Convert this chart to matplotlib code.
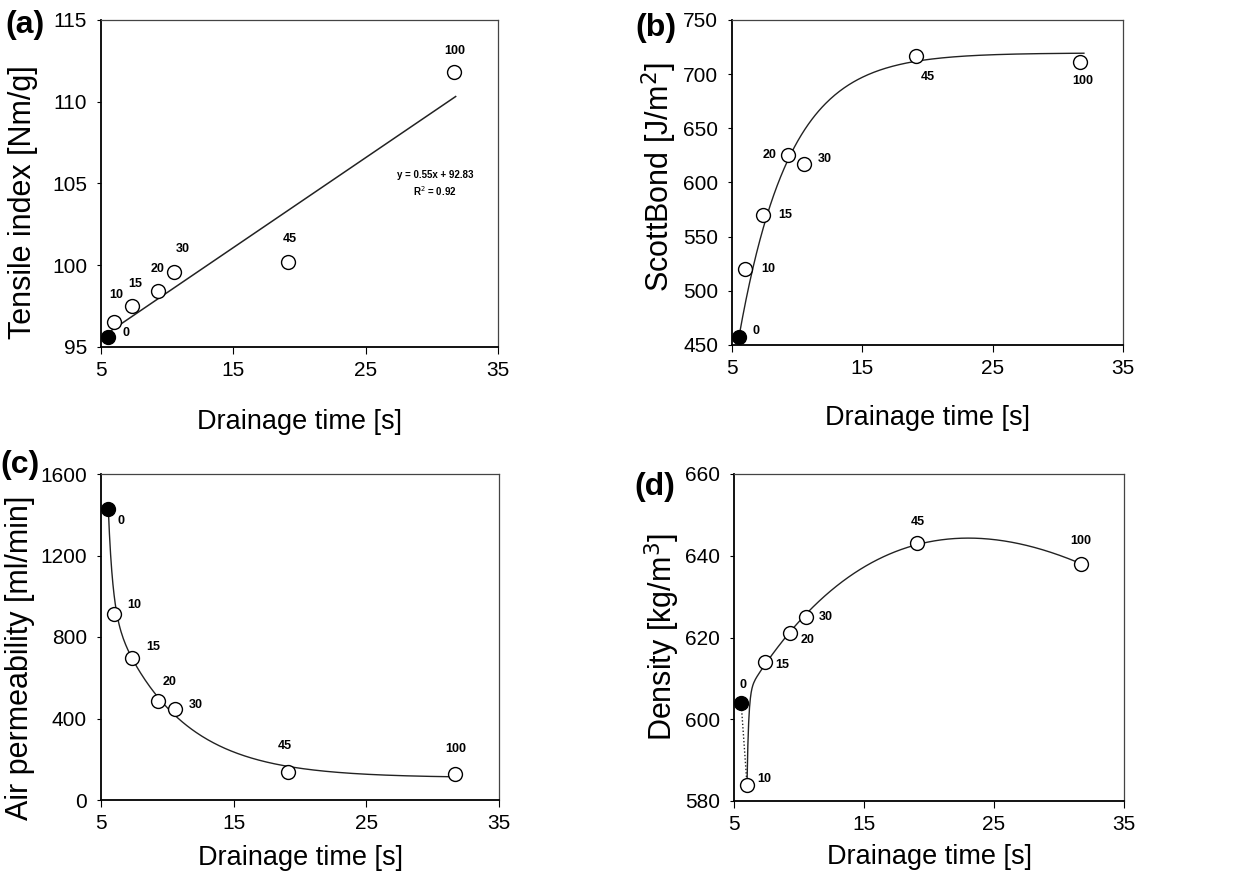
import numpy as np
import matplotlib
matplotlib.use("Agg")
import matplotlib.pyplot as plt

plt.rcParams["font.family"] = ["Liberation Sans", "DejaVu Sans"]

# data
drainage = [5.55, 6.0, 7.37, 9.3, 10.55, 19.1, 31.7]
point_labels = ["0", "10", "15", "20", "30", "45", "100"]
tensile = [95.6, 96.5, 97.5, 98.4, 99.6, 100.2, 111.8]
scott_bond = [457, 520, 570, 625, 617, 717, 711]
air_perm = [1430, 912, 695, 486, 447, 138, 129]
density = [604, 584, 614, 621, 625, 643, 638]

x_ticks = [5, 15, 25, 35]
tensile_ticks = [95, 100, 105, 110, 115]
scott_ticks = [450, 500, 550, 600, 650, 700, 750]
air_ticks = [0, 400, 800, 1200, 1600]
density_ticks = [580, 600, 620, 640, 660]

lin_slope, lin_icept, lin_r2 = 0.55, 92.83, 0.92

# weights used for the smooth trend curves (the reference curves hug some points more)
weights_b = [20, 1, 1, 1, 1, 4, 1]
weights_c = [20, 0.05, 1, 1, 1, 1, 1]
weights_d = [5, 1, 1, 1, 2, 3]

# label offsets in pixels (dx, dy)
off_a = [(18, 4), (2, 27), (3, 22), (0, 22), (8, 23), (2, 23), (0, 21)]
off_b = [(17, 6), (23, 0), (22, 0), (-18, 0), (20, 5), (12, -21), (3, -19)]
off_c = [(13, -12), (20, 9), (21, 11), (12, 19), (21, 4), (-3, 26), (1, 25)]
off_d = [(2, 18), (17, 6), (17, -3), (18, -7), (20, 0), (1, 21), (0, 23)]

LINE = "#222222"


def fit_curve(x, y, w, make_funcs, params):
    sw = np.sqrt(np.asarray(w, dtype=float))
    best = None
    for p in params:
        funcs = make_funcs(p)
        A = np.column_stack([f(x) for f in funcs])
        coef, *_ = np.linalg.lstsq(A * sw[:, None], y * sw, rcond=None)
        sse = float(np.sum(((A @ coef - y) * sw) ** 2))
        if best is None or sse < best[0]:
            best = (sse, funcs, coef)
    _, funcs, coef = best
    return lambda t: sum(c * f(t) for c, f in zip(coef, funcs))


def style_axes(ax, yticks, ylabel, ylab_pos, xlab_y, letter, letter_xy):
    ax.set_xlim(5, 35)
    ax.set_ylim(yticks[0], yticks[-1])
    ax.set_xticks(x_ticks)
    ax.set_yticks(yticks)
    for side in ("left", "bottom"):
        ax.spines[side].set_linewidth(1.3)
        ax.spines[side].set_color("black")
    for side in ("top", "right"):
        ax.spines[side].set_linewidth(0.9)
        ax.spines[side].set_color("#444444")
    ax.tick_params(axis="both", direction="out", labelsize=15, top=False, right=False)
    ax.tick_params(axis="x", length=5, pad=5)
    ax.tick_params(axis="y", length=3, pad=7)
    ax.set_xlabel("Drainage time [s]", fontsize=19.5, va="center")
    ax.xaxis.set_label_coords(0.5, xlab_y)
    ax.set_ylabel(ylabel, fontsize=22, va="center")
    ax.yaxis.set_label_coords(*ylab_pos)
    fig.text(letter_xy[0] / 1251, 1 - letter_xy[1] / 883, letter, fontsize=23,
             fontweight="bold", ha="center", va="center")


def draw_points(ax, x, y, offsets):
    ax.plot(x[1:], y[1:], "o", ms=10, mfc="white", mec="black", mew=1.0, zorder=3)
    ax.plot(x[:1], y[:1], "o", ms=10, mfc="black", mec="black", mew=1.0, zorder=3)
    for xi, yi, lab, (dx, dy) in zip(x, y, point_labels, offsets):
        ax.annotate(lab, (xi, yi), xytext=(dx, dy), textcoords="offset pixels",
                    ha="center", va="center", fontsize=9, fontweight="bold")


fig = plt.figure(figsize=(12.51, 8.83), dpi=100)
fig.patch.set_facecolor("white")

ax_a = fig.add_axes([101 / 1251, 1 - 347 / 883, 397 / 1251, 327 / 883])
ax_b = fig.add_axes([732 / 1251, 1 - 345 / 883, 391 / 1251, 325 / 883])
ax_c = fig.add_axes([101 / 1251, 1 - 800 / 883, 398 / 1251, 326 / 883])
ax_d = fig.add_axes([734 / 1251, 1 - 801 / 883, 390 / 1251, 327 / 883])

x = np.array(drainage)

# (a) linear regression
xs = np.linspace(x[0], 31.8, 50)
ax_a.plot(xs, lin_slope * xs + lin_icept, color=LINE, lw=1.1)
draw_points(ax_a, x, np.array(tensile), off_a)
ax_a.text(0.842, 1 - (174.7 - 20) / 327, f"y = {lin_slope}x + {lin_icept}",
          transform=ax_a.transAxes, ha="center", va="center", fontsize=7,
          fontweight="bold")
ax_a.text(0.842, 1 - (191 - 20) / 327, f"R$^2$ = {lin_r2}", transform=ax_a.transAxes,
          ha="center", va="center", fontsize=7, fontweight="bold")
style_axes(ax_a, tensile_ticks, "Tensile index [Nm/g]", (-0.196, 0.443), -0.228,
           "(a)", (25, 25))

# (b) exponential rise to maximum
yb = np.array(scott_bond, dtype=float)
fb = fit_curve(x, yb, weights_b,
               lambda k: [np.ones_like, lambda t, k=k: np.exp(-k * (t - 5))],
               np.linspace(0.05, 1.0, 400))
xs = np.linspace(x[0], 32.0, 300)
ax_b.plot(xs, fb(xs), color=LINE, lw=1.0)
draw_points(ax_b, x, yb, off_b)
style_axes(ax_b, scott_ticks, "ScottBond [J/m$^2$]", (-0.187, 0.518), -0.225,
           "(b)", (656, 28))

# (c) decay
yc = np.array(air_perm, dtype=float)
pairs = [(k1, k2) for k1 in np.linspace(0.3, 3.0, 55) for k2 in np.linspace(0.02, 0.4, 39)]
fc = fit_curve(x, yc, weights_c,
               lambda p: [np.ones_like, lambda t, a=p[0]: np.exp(-a * (t - 5)),
                          lambda t, b=p[1]: np.exp(-b * (t - 5))], pairs)
xs = np.linspace(x[0], 31.6, 300)
ax_c.plot(xs, fc(xs), color=LINE, lw=1.0)
draw_points(ax_c, x, yc, off_c)
style_axes(ax_c, air_ticks, "Air permeability [ml/min]", (-0.204, 0.435), -0.178,
           "(c)", (20, 465))

# (d) rise with maximum, 0-point joined by a dotted line
yd = np.array(density, dtype=float)
pairs = [(k1, k2) for k1 in np.linspace(1.0, 8.0, 36) for k2 in np.linspace(0.05, 0.6, 23)]
fd = fit_curve(x[1:], yd[1:], weights_d,
               lambda p: [np.ones_like, lambda t: t,
                          lambda t, a=p[0]: np.exp(-a * (t - 5)),
                          lambda t, b=p[1]: np.exp(-b * (t - 5))], pairs)
xs = np.linspace(x[1], 31.7, 400)
ax_d.plot(xs, fd(xs), color=LINE, lw=1.0)
ax_d.plot(x[:2], yd[:2], color=LINE, lw=1.0, ls=(0, (1, 1.5)))
draw_points(ax_d, x, yd, off_d)
style_axes(ax_d, density_ticks, "Density [kg/m$^3$]", (-0.185, 0.50), -0.171,
           "(d)", (655, 487))

fig.savefig("out.png", dpi=100, facecolor="white")
